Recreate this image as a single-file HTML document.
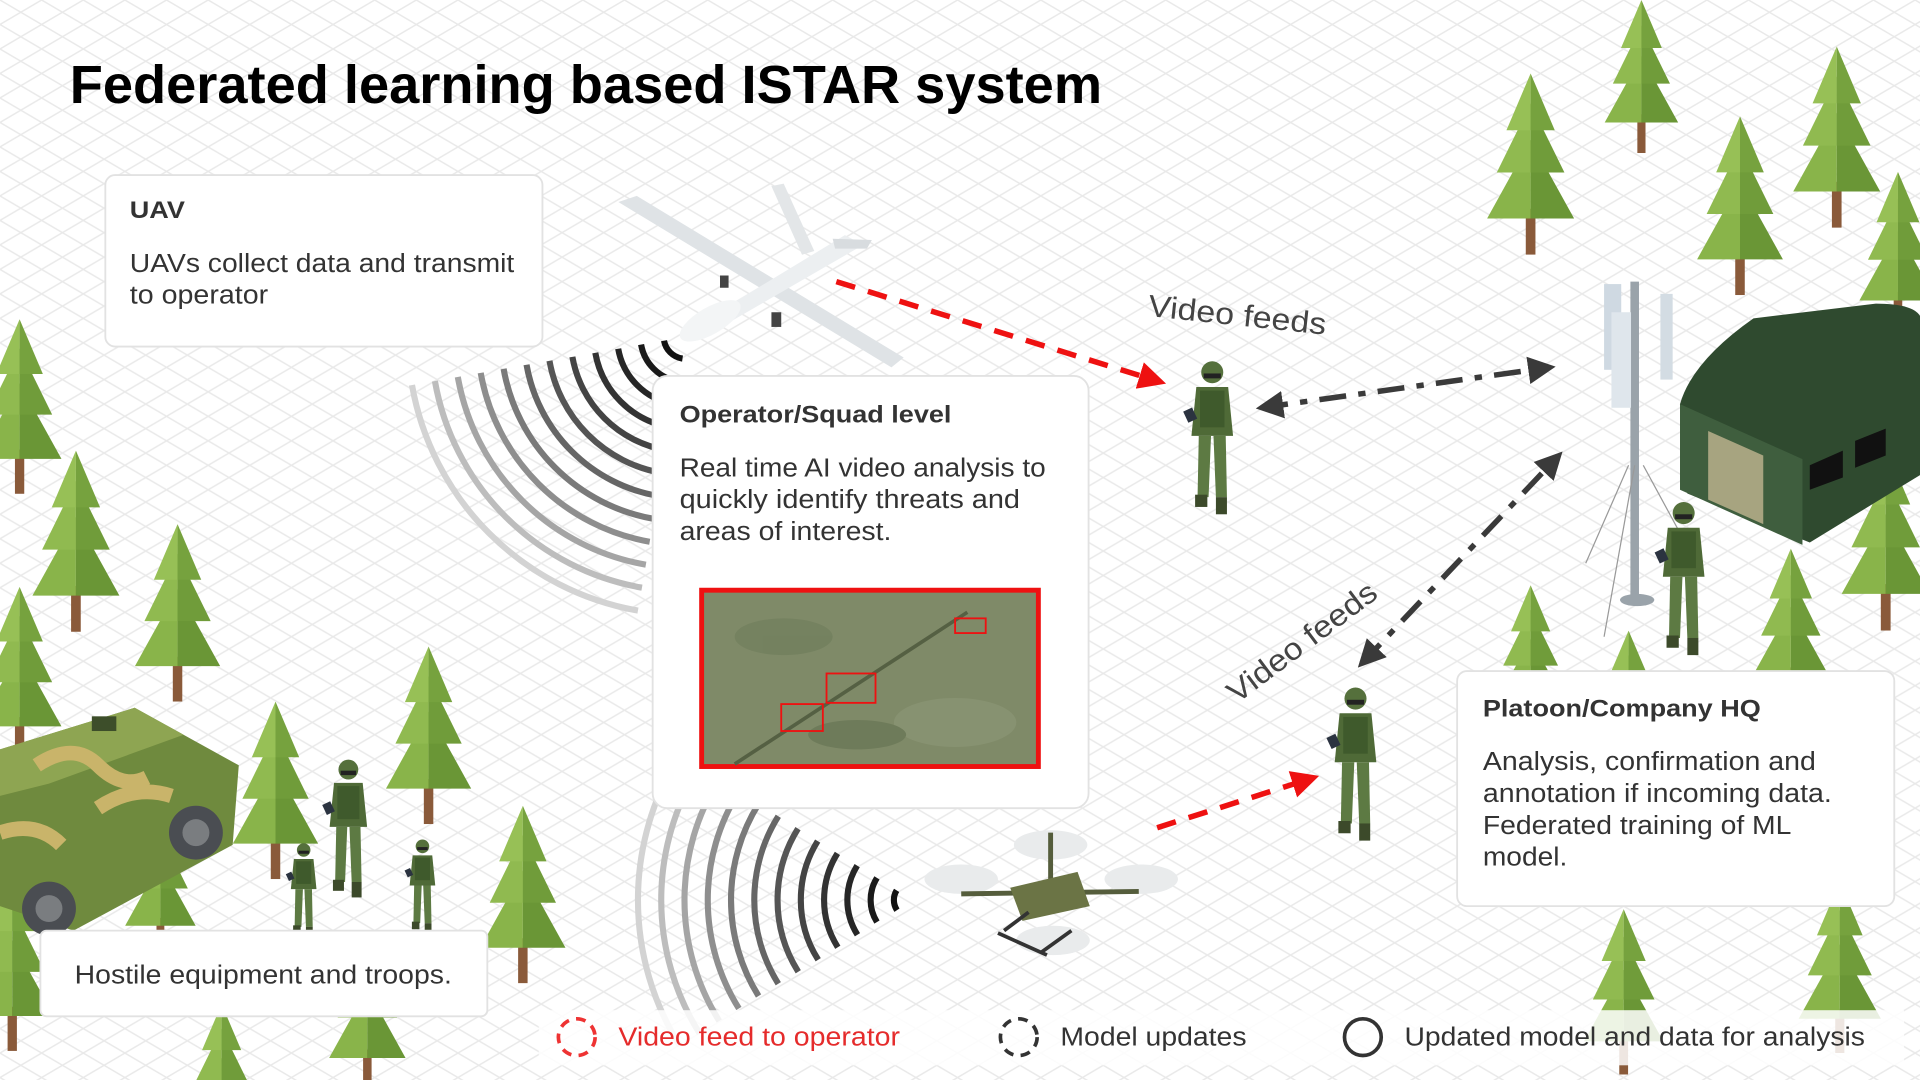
<!DOCTYPE html>
<html><head><meta charset="utf-8"><style>
html,body{margin:0;padding:0;width:1920px;height:1080px;overflow:hidden;background:#fff}
svg{display:block;position:absolute;left:0;top:0}
text{font-family:"Liberation Sans",sans-serif}
</style></head><body>
<svg width="1920" height="1080" viewBox="0 0 1568 882" xmlns="http://www.w3.org/2000/svg">
<defs>
<pattern id="grid" width="34" height="20" patternUnits="userSpaceOnUse">
<path d="M0 0L34 20M34 0L0 20" stroke="#e9e9e9" stroke-width="1.2" fill="none"/>
</pattern>
<symbol id="tree" viewBox="0 0 80 150">
<rect x="36" y="112" width="8" height="38" fill="#8a5a3a"/>
<polygon points="40,55 4,120 40,120" fill="#89b44a"/><polygon points="40,55 76,120 40,120" fill="#6a9636"/>
<polygon points="40,25 12,82 40,82" fill="#90ba50"/><polygon points="40,25 68,82 40,82" fill="#709c3a"/>
<polygon points="40,0 20,47 40,47" fill="#97c056"/><polygon points="40,0 60,47 40,47" fill="#76a23e"/>
</symbol>
<symbol id="sold" viewBox="0 0 50 130">
<circle cx="25" cy="10" r="9" fill="#55703c"/>
<rect x="18" y="11" width="14" height="4" fill="#222"/>
<path d="M12 22h26l4 40h-34z" fill="#4f6a37"/>
<rect x="15" y="25" width="20" height="30" fill="#3f5a2c"/>
<path d="M14 62h10l-2 50h-9zM26 62h10l1 50h-9z" fill="#5d7a43"/>
<rect x="11" y="110" width="10" height="10" fill="#3c4a2a"/><rect x="28" y="112" width="9" height="14" fill="#3c4a2a"/>
<rect x="3" y="40" width="8" height="10" fill="#2b3340" transform="rotate(-25 7 45)"/>
</symbol>
<marker id="ar" viewBox="0 0 10 10" refX="8" refY="5" markerWidth="5" markerHeight="5" orient="auto-start-reverse"><path d="M0 0L10 5L0 10z" fill="#ee1111"/></marker>
<marker id="ab" viewBox="0 0 10 10" refX="8" refY="5" markerWidth="5" markerHeight="5" orient="auto-start-reverse"><path d="M0 0L10 5L0 10z" fill="#3a3a3a"/></marker>
</defs>
<rect width="1568" height="882" fill="url(#grid)"/>

<!-- trees right -->
<use href="#tree" x="1303" y="0" width="75" height="125"/>
<use href="#tree" x="1210" y="60" width="80" height="148"/>
<use href="#tree" x="1460" y="38" width="80" height="148"/>
<use href="#tree" x="1382" y="95" width="78" height="146"/>
<use href="#tree" x="1515" y="140" width="70" height="132"/>
<use href="#tree" x="1500" y="365" width="80" height="150"/>
<use href="#tree" x="1215" y="478" width="70" height="120"/>
<use href="#tree" x="1295" y="515" width="70" height="120"/>
<use href="#tree" x="1425" y="448" width="75" height="130"/>
<use href="#tree" x="1290" y="740" width="72" height="140"/>
<use href="#tree" x="1465" y="720" width="75" height="140"/>
<!-- trees left -->
<use href="#tree" x="-22" y="258" width="76" height="148"/>
<use href="#tree" x="22" y="368" width="80" height="148"/>
<use href="#tree" x="105" y="428" width="80" height="145"/>
<use href="#tree" x="-22" y="478" width="76" height="145"/>
<use href="#tree" x="310" y="528" width="80" height="145"/>
<use href="#tree" x="185" y="573" width="80" height="145"/>
<use href="#tree" x="387" y="658" width="80" height="145"/>
<use href="#tree" x="95" y="660" width="72" height="120"/>
<use href="#tree" x="-28" y="712" width="76" height="150"/>
<use href="#tree" x="262" y="760" width="76" height="130"/>
<use href="#tree" x="143" y="820" width="76" height="120"/>

<!-- vehicle -->
<g>
<polygon points="0,612 110,578 195,625 190,690 60,760 0,740" fill="#6f8a3e"/>
<polygon points="0,612 110,578 150,600 40,640 0,650" fill="#8ea552"/>
<path d="M30 625q30-20 50 0t40 10M0 680q30 -10 50 10M80 660q30-20 60-10" stroke="#c9b46a" stroke-width="12" fill="none"/>
<circle cx="160" cy="680" r="22" fill="#4a4d52"/><circle cx="160" cy="680" r="11" fill="#7a7d80"/>
<circle cx="40" cy="742" r="22" fill="#4a4d52"/><circle cx="40" cy="742" r="11" fill="#7a7d80"/>
<rect x="75" y="585" width="20" height="12" fill="#3d4e2a"/>
</g>
<use href="#sold" x="262" y="603" width="45" height="150"/>
<use href="#sold" x="228" y="688" width="40" height="80"/>
<use href="#sold" x="325" y="685" width="40" height="80"/>

<!-- signal arcs upper -->
<g fill="none" stroke-width="5">
<circle cx="560" cy="275" r="18" pathLength="360" stroke-dasharray="70 290" transform="rotate(100 560 275)" stroke="#111"/>
<circle cx="560" cy="275" r="37" pathLength="360" stroke-dasharray="70 290" transform="rotate(100 560 275)" stroke="#1a1a1a"/>
<circle cx="560" cy="275" r="56" pathLength="360" stroke-dasharray="70 290" transform="rotate(100 560 275)" stroke="#262626"/>
<circle cx="560" cy="275" r="75" pathLength="360" stroke-dasharray="70 290" transform="rotate(100 560 275)" stroke="#333"/>
<circle cx="560" cy="275" r="94" pathLength="360" stroke-dasharray="70 290" transform="rotate(100 560 275)" stroke="#444"/>
<circle cx="560" cy="275" r="113" pathLength="360" stroke-dasharray="70 290" transform="rotate(100 560 275)" stroke="#555"/>
<circle cx="560" cy="275" r="132" pathLength="360" stroke-dasharray="70 290" transform="rotate(100 560 275)" stroke="#666"/>
<circle cx="560" cy="275" r="151" pathLength="360" stroke-dasharray="70 290" transform="rotate(100 560 275)" stroke="#7a7a7a"/>
<circle cx="560" cy="275" r="170" pathLength="360" stroke-dasharray="70 290" transform="rotate(100 560 275)" stroke="#8e8e8e"/>
<circle cx="560" cy="275" r="189" pathLength="360" stroke-dasharray="70 290" transform="rotate(100 560 275)" stroke="#a5a5a5"/>
<circle cx="560" cy="275" r="208" pathLength="360" stroke-dasharray="70 290" transform="rotate(100 560 275)" stroke="#bdbdbd"/>
<circle cx="560" cy="275" r="227" pathLength="360" stroke-dasharray="70 290" transform="rotate(100 560 275)" stroke="#d3d3d3"/>
</g>
<!-- signal arcs lower -->
<g fill="none" stroke-width="5">
<circle cx="745" cy="735" r="15" pathLength="360" stroke-dasharray="64 296" transform="rotate(148 745 735)" stroke="#111"/>
<circle cx="745" cy="735" r="34" pathLength="360" stroke-dasharray="64 296" transform="rotate(148 745 735)" stroke="#1a1a1a"/>
<circle cx="745" cy="735" r="53" pathLength="360" stroke-dasharray="64 296" transform="rotate(148 745 735)" stroke="#262626"/>
<circle cx="745" cy="735" r="72" pathLength="360" stroke-dasharray="64 296" transform="rotate(148 745 735)" stroke="#333"/>
<circle cx="745" cy="735" r="91" pathLength="360" stroke-dasharray="64 296" transform="rotate(148 745 735)" stroke="#444"/>
<circle cx="745" cy="735" r="110" pathLength="360" stroke-dasharray="64 296" transform="rotate(148 745 735)" stroke="#555"/>
<circle cx="745" cy="735" r="129" pathLength="360" stroke-dasharray="64 296" transform="rotate(148 745 735)" stroke="#666"/>
<circle cx="745" cy="735" r="148" pathLength="360" stroke-dasharray="64 296" transform="rotate(148 745 735)" stroke="#7a7a7a"/>
<circle cx="745" cy="735" r="167" pathLength="360" stroke-dasharray="64 296" transform="rotate(148 745 735)" stroke="#8e8e8e"/>
<circle cx="745" cy="735" r="186" pathLength="360" stroke-dasharray="64 296" transform="rotate(148 745 735)" stroke="#a5a5a5"/>
<circle cx="745" cy="735" r="205" pathLength="360" stroke-dasharray="64 296" transform="rotate(148 745 735)" stroke="#bdbdbd"/>
<circle cx="745" cy="735" r="224" pathLength="360" stroke-dasharray="64 296" transform="rotate(148 745 735)" stroke="#d3d3d3"/>
</g>

<!-- UAV plane -->
<g>
<polygon points="505,165 520,160 738,292 728,300" fill="#dfe3e6"/>
<polygon points="558,272 690,192 705,200 570,278" fill="#eceff1"/>
<ellipse cx="580" cy="262" rx="28" ry="11" transform="rotate(-30 580 262)" fill="#f3f5f6"/>
<polygon points="630,152 640,150 665,205 655,208" fill="#e3e6e8"/>
<polygon points="680,195 712,196 708,203 682,203" fill="#d8dcdf"/>
<rect x="630" y="255" width="8" height="12" fill="#444"/><rect x="588" y="225" width="7" height="10" fill="#444"/>
</g>

<!-- drone lower -->
<g>
<ellipse cx="785" cy="718" rx="30" ry="12" fill="#e9ebec"/><ellipse cx="932" cy="718" rx="30" ry="12" fill="#e9ebec"/>
<ellipse cx="858" cy="690" rx="30" ry="12" fill="#e9ebec"/><ellipse cx="860" cy="768" rx="30" ry="12" fill="#e9ebec"/>
<line x1="785" y1="730" x2="930" y2="728" stroke="#555d3c" stroke-width="4"/>
<line x1="858" y1="680" x2="858" y2="740" stroke="#555d3c" stroke-width="4"/>
<polygon points="825,725 880,712 890,740 835,752" fill="#6b7445"/>
<path d="M820 760l20 -15M850 778l25 -18M815 762l40 18" stroke="#333" stroke-width="3" fill="none"/>
</g>

<!-- HQ tower & tent -->
<g>
<line x1="1335" y1="230" x2="1335" y2="490" stroke="#9aa3aa" stroke-width="7"/>
<ellipse cx="1337" cy="490" rx="14" ry="5" fill="#9aa3aa"/>
<line x1="1330" y1="380" x2="1295" y2="460" stroke="#999" stroke-width="1"/>
<line x1="1342" y1="380" x2="1380" y2="450" stroke="#999" stroke-width="1"/>
<line x1="1335" y1="380" x2="1310" y2="520" stroke="#999" stroke-width="1"/>
<rect x="1310" y="232" width="14" height="70" fill="#cfd9e2"/><rect x="1316" y="255" width="16" height="78" fill="#dfe6ec"/>
<rect x="1356" y="240" width="10" height="70" fill="#d3dce3"/>
<path d="M1372 330q10-35 60-70l100-12q30 0 36 10v130l-90 55-100-40z" fill="#2f4a2f"/>
<path d="M1372 330l100 45v70l-100-45z" fill="#3f5e3e"/>
<polygon points="1395,352 1440,372 1440,428 1395,408" fill="#a7a480"/>
<polygon points="1478,380 1505,368 1505,390 1478,400" fill="#111"/><polygon points="1515,360 1540,350 1540,372 1515,382" fill="#111"/>
</g>
<use href="#sold" x="1350" y="400" width="50" height="148"/>

<use href="#sold" x="965" y="283" width="50" height="152"/>
<use href="#sold" x="1082" y="548" width="50" height="155"/>

<!-- arrows -->
<line x1="683" y1="230" x2="948" y2="312" stroke="#ee1111" stroke-width="4.5" stroke-dasharray="16 11" marker-end="url(#ar)"/>
<line x1="945" y1="676" x2="1073" y2="635" stroke="#ee1111" stroke-width="4.5" stroke-dasharray="16 11" marker-end="url(#ar)"/>
<line x1="1030" y1="333" x2="1266" y2="300" stroke="#3a3a3a" stroke-width="4.5" stroke-dasharray="22 10 6 10" marker-start="url(#ab)" marker-end="url(#ab)"/>
<line x1="1112" y1="542" x2="1273" y2="372" stroke="#3a3a3a" stroke-width="4.5" stroke-dasharray="22 10 6 10" marker-start="url(#ab)" marker-end="url(#ab)"/>

<text x="937" y="258" font-size="25" fill="#444" transform="rotate(6 937 258)" textLength="146" lengthAdjust="spacingAndGlyphs">Video feeds</text>
<text x="1010" y="575" font-size="25" fill="#444" transform="rotate(-37 1010 575)" textLength="146" lengthAdjust="spacingAndGlyphs">Video feeds</text>

<text x="57" y="84" font-size="44" font-weight="bold" fill="#000" textLength="843" lengthAdjust="spacingAndGlyphs">Federated learning based ISTAR system</text>

<rect x="86" y="143" width="357" height="140" rx="8" fill="#fff" stroke="#e2e2e2" stroke-width="1.5"/>
<text x="106" y="178" font-size="20" font-weight="bold" fill="#333" textLength="45" lengthAdjust="spacingAndGlyphs">UAV</text>
<text x="106" y="222" font-size="21" fill="#333" textLength="314" lengthAdjust="spacingAndGlyphs">UAVs collect data and transmit</text>
<text x="106" y="248" font-size="21" fill="#333" textLength="113" lengthAdjust="spacingAndGlyphs">to operator</text>

<rect x="533" y="307" width="356" height="353" rx="12" fill="#fff" stroke="#e2e2e2" stroke-width="1.5"/>
<text x="555" y="345" font-size="20" font-weight="bold" fill="#333" textLength="222" lengthAdjust="spacingAndGlyphs">Operator/Squad level</text>
<text x="555" y="389" font-size="21" fill="#333" textLength="299" lengthAdjust="spacingAndGlyphs">Real time AI video analysis to</text>
<text x="555" y="415" font-size="21" fill="#333" textLength="278" lengthAdjust="spacingAndGlyphs">quickly identify threats and</text>
<text x="555" y="441" font-size="21" fill="#333" textLength="173" lengthAdjust="spacingAndGlyphs">areas of interest.</text>
<rect x="573" y="482" width="275" height="144" fill="#7f8a68" stroke="#ee1111" stroke-width="4"/>
<g opacity="0.5"><ellipse cx="640" cy="520" rx="40" ry="15" fill="#6b7a58"/><ellipse cx="780" cy="590" rx="50" ry="20" fill="#909a7a"/><ellipse cx="700" cy="600" rx="40" ry="12" fill="#5f6d4d"/></g>
<line x1="600" y1="624" x2="790" y2="500" stroke="#556043" stroke-width="3"/>
<rect x="675" y="550" width="40" height="24" fill="none" stroke="#e11" stroke-width="1.5"/>
<rect x="638" y="575" width="34" height="22" fill="none" stroke="#e11" stroke-width="1.5"/>
<rect x="780" y="505" width="25" height="12" fill="none" stroke="#e11" stroke-width="1.5"/>

<rect x="1190" y="548" width="357" height="192" rx="8" fill="#fff" stroke="#e2e2e2" stroke-width="1.5"/>
<text x="1211" y="585" font-size="20" font-weight="bold" fill="#333" textLength="227" lengthAdjust="spacingAndGlyphs">Platoon/Company HQ</text>
<text x="1211" y="629" font-size="21" fill="#333" textLength="272" lengthAdjust="spacingAndGlyphs">Analysis, confirmation and</text>
<text x="1211" y="655" font-size="21" fill="#333" textLength="285" lengthAdjust="spacingAndGlyphs">annotation if incoming data.</text>
<text x="1211" y="681" font-size="21" fill="#333" textLength="252" lengthAdjust="spacingAndGlyphs">Federated training of ML</text>
<text x="1211" y="707" font-size="21" fill="#333" textLength="69" lengthAdjust="spacingAndGlyphs">model.</text>

<rect x="33" y="760" width="365" height="70" rx="5" fill="#fff" stroke="#e2e2e2" stroke-width="1.5"/>
<text x="61" y="803" font-size="21" fill="#333" textLength="308" lengthAdjust="spacingAndGlyphs">Hostile equipment and troops.</text>

<rect x="440" y="825" width="1115" height="45" fill="#fff" opacity="0.85"/>
<circle cx="471" cy="847" r="15" fill="none" stroke="#ee3333" stroke-width="3" stroke-dasharray="8 6"/>
<text x="505" y="854" font-size="21" fill="#e52b2b" textLength="230" lengthAdjust="spacingAndGlyphs">Video feed to operator</text>
<circle cx="832" cy="847" r="15" fill="none" stroke="#333" stroke-width="3" stroke-dasharray="8 6"/>
<text x="866" y="854" font-size="21" fill="#333" textLength="152" lengthAdjust="spacingAndGlyphs">Model updates</text>
<circle cx="1113" cy="847" r="15" fill="none" stroke="#333" stroke-width="3"/>
<text x="1147" y="854" font-size="21" fill="#333" textLength="376" lengthAdjust="spacingAndGlyphs">Updated model and data for analysis</text>
</svg>
</body></html>
